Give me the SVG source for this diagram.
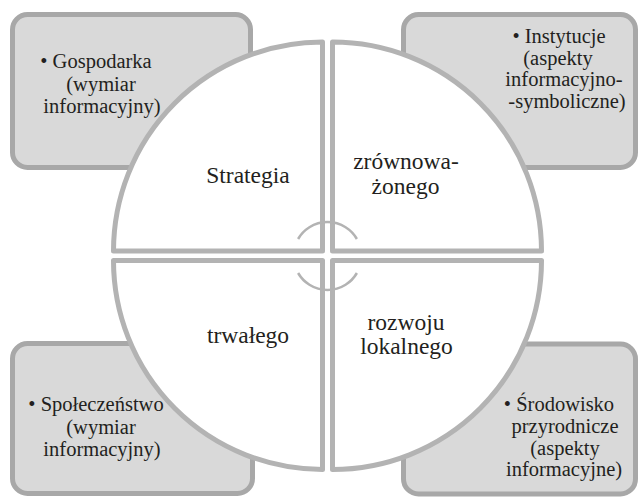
<svg xmlns="http://www.w3.org/2000/svg" width="638" height="498" viewBox="0 0 638 498">
<style>
.box{fill:#d9d9d9;stroke:#a8a8a8;stroke-width:5}
.q{fill:#ffffff;stroke:#b3b3b3;stroke-width:5;stroke-linejoin:round}
.arc{fill:none;stroke:#b3b3b3;stroke-width:2.5}
text{font-family:'Liberation Serif','Times New Roman',serif;fill:#231f20;text-anchor:middle}
.bt{font-size:20.5px}
.ct{font-size:23.5px}
</style>
<rect width="638" height="498" fill="#ffffff"/>
<g id="box-gospodarka">
<rect class="box" x="12.5" y="14.5" width="238" height="153" rx="15"/>
<text class="bt" x="96" y="68">• Gospodarka</text>
<text class="bt" x="101" y="91">(wymiar</text>
<text class="bt" x="102" y="113">informacyjny)</text>
</g>
<g id="box-instytucje">
<rect class="box" x="403.5" y="14.5" width="232" height="153" rx="15"/>
<text class="bt" x="559" y="43">• Instytucje</text>
<text class="bt" x="558" y="64.5">(aspekty</text>
<text class="bt" x="564" y="86">informacyjno-</text>
<text class="bt" x="567" y="107.5">-symboliczne)</text>
</g>
<g id="box-spoleczenstwo">
<rect class="box" x="12.5" y="343.5" width="240" height="150" rx="15"/>
<text class="bt" x="96" y="411">• Społeczeństwo</text>
<text class="bt" x="101" y="434">(wymiar</text>
<text class="bt" x="102" y="456">informacyjny)</text>
</g>
<g id="box-srodowisko">
<rect class="box" x="403.5" y="344" width="232" height="150" rx="15"/>
<text class="bt" x="559" y="411">• Środowisko</text>
<text class="bt" x="565" y="433">przyrodnicze</text>
<text class="bt" x="565" y="454.5">(aspekty</text>
<text class="bt" x="564" y="476">informacyjne)</text>
</g>
<g id="q-strategia">
<path class="q" d="M322.5,251 L113.5,251 A209,209 0 0 1 322.5,42 Z"/>
<text class="ct" x="248" y="183">Strategia</text>
</g>
<g id="q-zrownowazonego">
<path class="q" d="M332.5,251 L332.5,42 A209,209 0 0 1 541.5,251 Z"/>
<text class="ct" x="406" y="169">zrównowa-</text>
<text class="ct" x="405.5" y="194">żonego</text>
</g>
<g id="q-trwalego">
<path class="q" d="M322.5,260.5 L322.5,469.5 A209,209 0 0 1 113.5,260.5 Z"/>
<text class="ct" x="248" y="343">trwałego</text>
</g>
<g id="q-rozwoju">
<path class="q" d="M332.5,260.5 L541.5,260.5 A209,209 0 0 1 332.5,469.5 Z"/>
<text class="ct" x="406" y="330">rozwoju</text>
<text class="ct" x="406.5" y="354">lokalnego</text>
</g>
<g id="connectors">
<path class="arc" d="M298.1,239 A34,34 0 0 1 356.9,239"/>
<path class="arc" d="M356.9,273 A34,34 0 0 1 298.1,273"/>
</g>
</svg>
